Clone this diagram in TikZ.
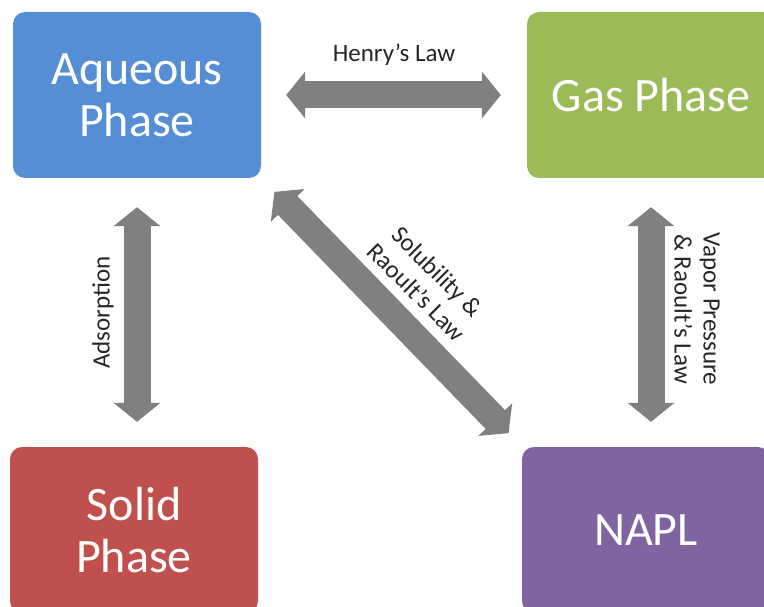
\documentclass[tikz,border=0pt]{standalone}
\usepackage{fontspec}
\setmainfont{Carlito}
\usetikzlibrary{arrows.meta}
\definecolor{aqblue}{HTML}{558ED5}
\definecolor{gasgreen}{HTML}{9BBB59}
\definecolor{solred}{HTML}{C0504D}
\definecolor{naplpurple}{HTML}{8064A2}
\definecolor{flowgray}{HTML}{808080}
\definecolor{lblgray}{HTML}{262626}
\begin{document}
\begin{tikzpicture}[x=1pt,y=-1pt,
		phase/.style={rectangle,rounded corners=12pt,minimum width=248pt,minimum height=166pt,text=white,align=center,font=\fontsize{48}{52}\selectfont},
		flow/.style={draw=flowgray,line width=27pt,{Triangle[width=46pt,length=19pt]}-{Triangle[width=46pt,length=19pt]}},
		lbl/.style={font=\fontsize{25}{29}\selectfont,align=center,inner sep=0pt,text=lblgray}]
		\useasboundingbox (0,0) rectangle (764,607);
		\node[phase,fill=aqblue] (aq) at (137,95) {Aqueous\\Phase};
		\node[phase,fill=gasgreen] (gas) at (651,95) {Gas Phase};
		\node[phase,fill=solred] (sol) at (134,530) {Solid\\Phase};
		\node[phase,fill=naplpurple] (napl) at (646,530) {NAPL};
		\draw[flow,shorten <=25pt,shorten >=26pt] (aq.east) -- (gas.west)node[lbl,midway,yshift=40pt]{Henry’s Law};
		\draw[flow,shorten <=29pt,shorten >=25pt] (aq.south) -- (aq.south |- sol.north)node[lbl,midway,xshift=-34pt,rotate=90]{Adsorption};
		\draw[flow,shorten <=29pt,shorten >=25pt] (gas.south) -- (gas.south |- napl.north)node[lbl,midway,xshift=46pt,yshift=3.5pt,rotate=-90]{Vapor Pressure\\\& Raoult’s Law};
		\draw[flow,shorten <=19pt,shorten >=19pt] (aq.south east) -- (napl.north west)node[lbl,midway,xshift=35.5pt,yshift=30.5pt,rotate=-45]{Solubility \&\\Raoult’s Law};
	\end{tikzpicture}
\end{document}
